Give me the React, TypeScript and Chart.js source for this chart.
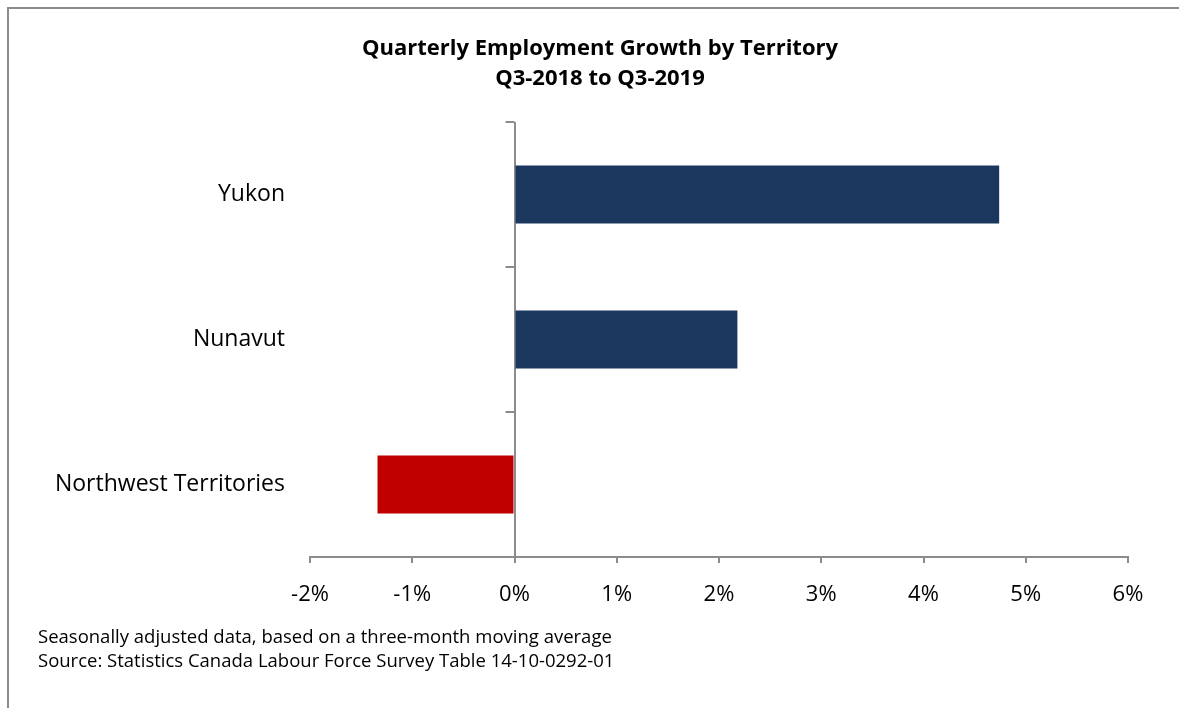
import React, { useEffect, useRef } from "react";
import { Chart, registerables } from "chart.js";

Chart.register(...registerables);

const categories = ["Yukon", "Nunavut", "Northwest Territories"];
const growth = [4.74, 2.18, -1.34];
const barColors = ["#1b375e", "#1b375e", "#c00000"];
const xMin = -2;
const xMax = 6;
const xStep = 1;
const titleLines = ["Quarterly Employment Growth by Territory", "Q3-2018 to Q3-2019"];
const footnotes = [
  "Seasonally adjusted data, based on a three-month moving average",
  "Source: Statistics Canada Labour Force Survey Table 14-10-0292-01",
];

const AXIS = "#8c8c8c";
const FONT = "'Open Sans', 'Noto Sans', sans-serif";

const categoryTicks = {
  id: "categoryTicks",
  afterDraw(chart: any) {
    const x = chart.scales.x;
    const y = chart.scales.y;
    const ctx = chart.ctx;
    const x0 = x.getPixelForValue(0);
    const n = categories.length;
    const half = (y.getPixelForValue(1) - y.getPixelForValue(0)) / 2;
    ctx.save();
    ctx.strokeStyle = AXIS;
    ctx.lineWidth = 2;
    for (let i = 0; i <= n; i++) {
      const py = y.getPixelForValue(i) - half;
      ctx.beginPath();
      ctx.moveTo(x0 - 9, py);
      ctx.lineTo(x0, py);
      ctx.stroke();
    }
    ctx.restore();
  },
};

export default function App() {
  const ref = useRef<HTMLCanvasElement>(null);

  useEffect(() => {
    if (!ref.current) return;
    const chart = new Chart(ref.current, {
      type: "bar",
      data: {
        labels: categories,
        datasets: [
          {
            data: growth,
            backgroundColor: barColors,
            borderWidth: 0,
            barPercentage: 0.4,
            categoryPercentage: 1,
          },
        ],
      },
      plugins: [categoryTicks],
      options: {
        indexAxis: "y",
        animation: false,
        responsive: true,
        maintainAspectRatio: false,
        layout: { padding: { left: 0, right: 51, top: 122, bottom: 91 } },
        plugins: {
          legend: { display: false },
          tooltip: { enabled: false },
          title: { display: false },
        },
        scales: {
          x: {
            type: "linear",
            min: xMin,
            max: xMax,
            ticks: {
              stepSize: xStep,
              color: "#000",
              padding: 19,
              font: { family: FONT, size: 22 },
              callback: (v: any) => v + "%",
            },
            grid: {
              color: (c: any) => (c.tick && c.tick.value === 0 ? AXIS : "transparent"),
              lineWidth: 2,
              tickColor: AXIS,
              tickLength: 6,
              drawTicks: true,
            },
            border: { display: true, color: AXIS, width: 2 },
            afterFit: (s: any) => {
              s.height = 60;
            },
          },
          y: {
            type: "category",
            offset: true,
            ticks: {
              color: "#000",
              padding: 25,
              font: { family: FONT, size: 23 },
            },
            grid: { display: false, drawTicks: false },
            border: { display: false },
            afterFit: (s: any) => {
              s.width = 310;
            },
          },
        },
      },
    });
    return () => chart.destroy();
  }, []);

  return (
    <div style={{ position: "absolute", left: 0, top: 0, width: 1179, height: 708, background: "#fff" }}>
      <div
        style={{
          position: "absolute",
          left: 7,
          top: 7,
          right: 0,
          bottom: 0,
          borderTop: `2px solid ${AXIS}`,
          borderLeft: `2px solid ${AXIS}`,
        }}
      />
      <div style={{ position: "absolute", left: 0, top: 0, width: 1179, height: 708 }}>
        <canvas ref={ref} />
      </div>
      <div
        style={{
          position: "absolute",
          left: 0,
          top: 31,
          width: 1200,
          textAlign: "center",
          fontFamily: FONT,
          fontSize: 22,
          fontWeight: "bold",
          lineHeight: "30px",
          color: "#000",
        }}
      >
        {titleLines.map((t) => (
          <div key={t}>{t}</div>
        ))}
      </div>
      <div
        style={{
          position: "absolute",
          left: 38,
          top: 624,
          fontFamily: FONT,
          fontSize: 18.5,
          lineHeight: "24px",
          color: "#000",
        }}
      >
        {footnotes.map((t) => (
          <div key={t}>{t}</div>
        ))}
      </div>
    </div>
  );
}
